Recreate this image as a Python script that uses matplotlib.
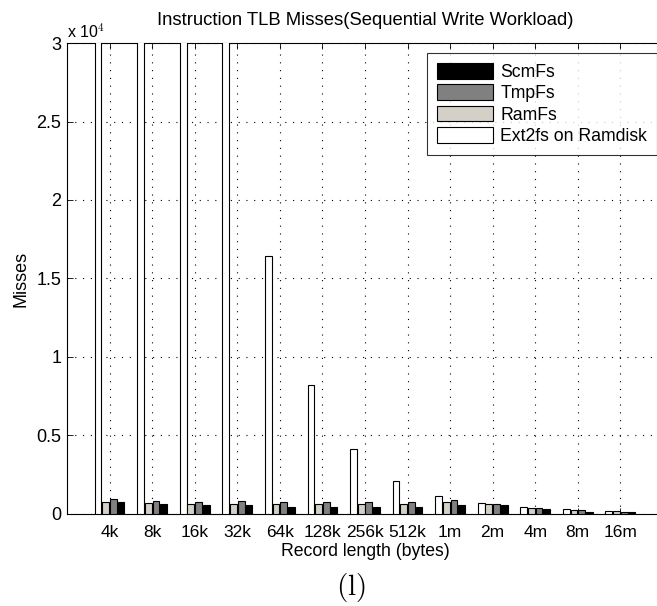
import numpy as np
import matplotlib
matplotlib.use('Agg')
import matplotlib.pyplot as plt
from matplotlib.patches import Patch
from matplotlib.ticker import FuncFormatter, MultipleLocator

plt.rcParams['font.family'] = ['Liberation Sans', 'DejaVu Sans']
plt.rcParams['mathtext.fontset'] = 'cm'

# Data (misses)
record_sizes = ['4k', '8k', '16k', '32k', '64k', '128k', '256k', '512k',
                '1m', '2m', '4m', '8m', '16m']
ext2fs = [262000, 131000, 65600, 32800, 16400, 8200, 4150, 2100,
          1150, 680, 470, 300, 170]
ramfs = [780, 720, 660, 660, 640, 640, 620, 620, 780, 640, 360, 230, 170]
tmpfs = [955, 850, 780, 800, 780, 740, 740, 760, 870, 620, 360, 230, 150]
scmfs = [770, 660, 590, 550, 470, 470, 470, 450, 550, 550, 280, 150, 90]

series = [('Ext2fs on Ramdisk', ext2fs, '#ffffff'),
          ('RamFs', ramfs, '#d4d0c8'),
          ('TmpFs', tmpfs, '#808080'),
          ('ScmFs', scmfs, '#000000')]

fig = plt.figure(figsize=(6.57, 6.06), dpi=100)
ax = fig.add_axes([0.102, 0.152, 0.907, 0.777])

x = np.arange(1, len(record_sizes) + 1)
slot = 0.18
offsets = [-1.5 * slot, -0.5 * slot, 0.5 * slot, 1.5 * slot]

# Draw the grouped bars
for (name, vals, color), off in zip(series, offsets):
    ax.bar(x + off, vals, width=0.16, color=color, edgecolor='black',
           linewidth=0.8, zorder=3)

ax.set_xlim(0, 14)
ax.set_ylim(0, 30000)
ax.set_xticks(x)
ax.set_xticklabels(record_sizes)
ax.yaxis.set_major_locator(MultipleLocator(5000))
ax.yaxis.set_major_formatter(FuncFormatter(lambda v, p: f'{v / 1e4:g}'))

ax.grid(True, color='black', linestyle=(0, (1, 6)), linewidth=0.8)
ax.set_axisbelow(True)
ax.tick_params(direction='in', length=4, width=0.6, top=True, right=True,
               colors='black')
ax.tick_params(axis='x', labelsize=12.5, pad=8)
ax.tick_params(axis='y', labelsize=13, pad=4)
for s in ax.spines.values():
    s.set_linewidth(0.8)

ax.text(0.0, 1.006, r'x 10$^{4}$', transform=ax.transAxes, fontsize=11.5,
        ha='left', va='bottom')
ax.set_title('Instruction TLB Misses(Sequential Write Workload)',
             fontsize=13.3, pad=13)
ax.set_xlabel('Record length (bytes)', fontsize=12.7, labelpad=2)
ax.set_ylabel('Misses', fontsize=13, labelpad=5)

# Legend lists the series in reverse order
order = ['ScmFs', 'TmpFs', 'RamFs', 'Ext2fs on Ramdisk']
colors = {name: color for name, _, color in series}
leg_handles = [Patch(facecolor=colors[n], edgecolor='black', linewidth=0.8)
               for n in order]
leg = fig.legend(leg_handles, order, loc='upper right',
                 bbox_to_anchor=(1.0, 0.9125), fontsize=12.7, frameon=True,
                 fancybox=False, edgecolor='black', handlelength=3.2,
                 handleheight=1.0, handletextpad=0.4, labelspacing=0.2,
                 borderpad=0.55, borderaxespad=0.0)
leg.get_frame().set_linewidth(0.8)

fig.text(0.534, 0.031, r'$\mathrm{(l)}$', fontsize=21, ha='center',
         va='center')

fig.savefig('out.png', dpi=100)
